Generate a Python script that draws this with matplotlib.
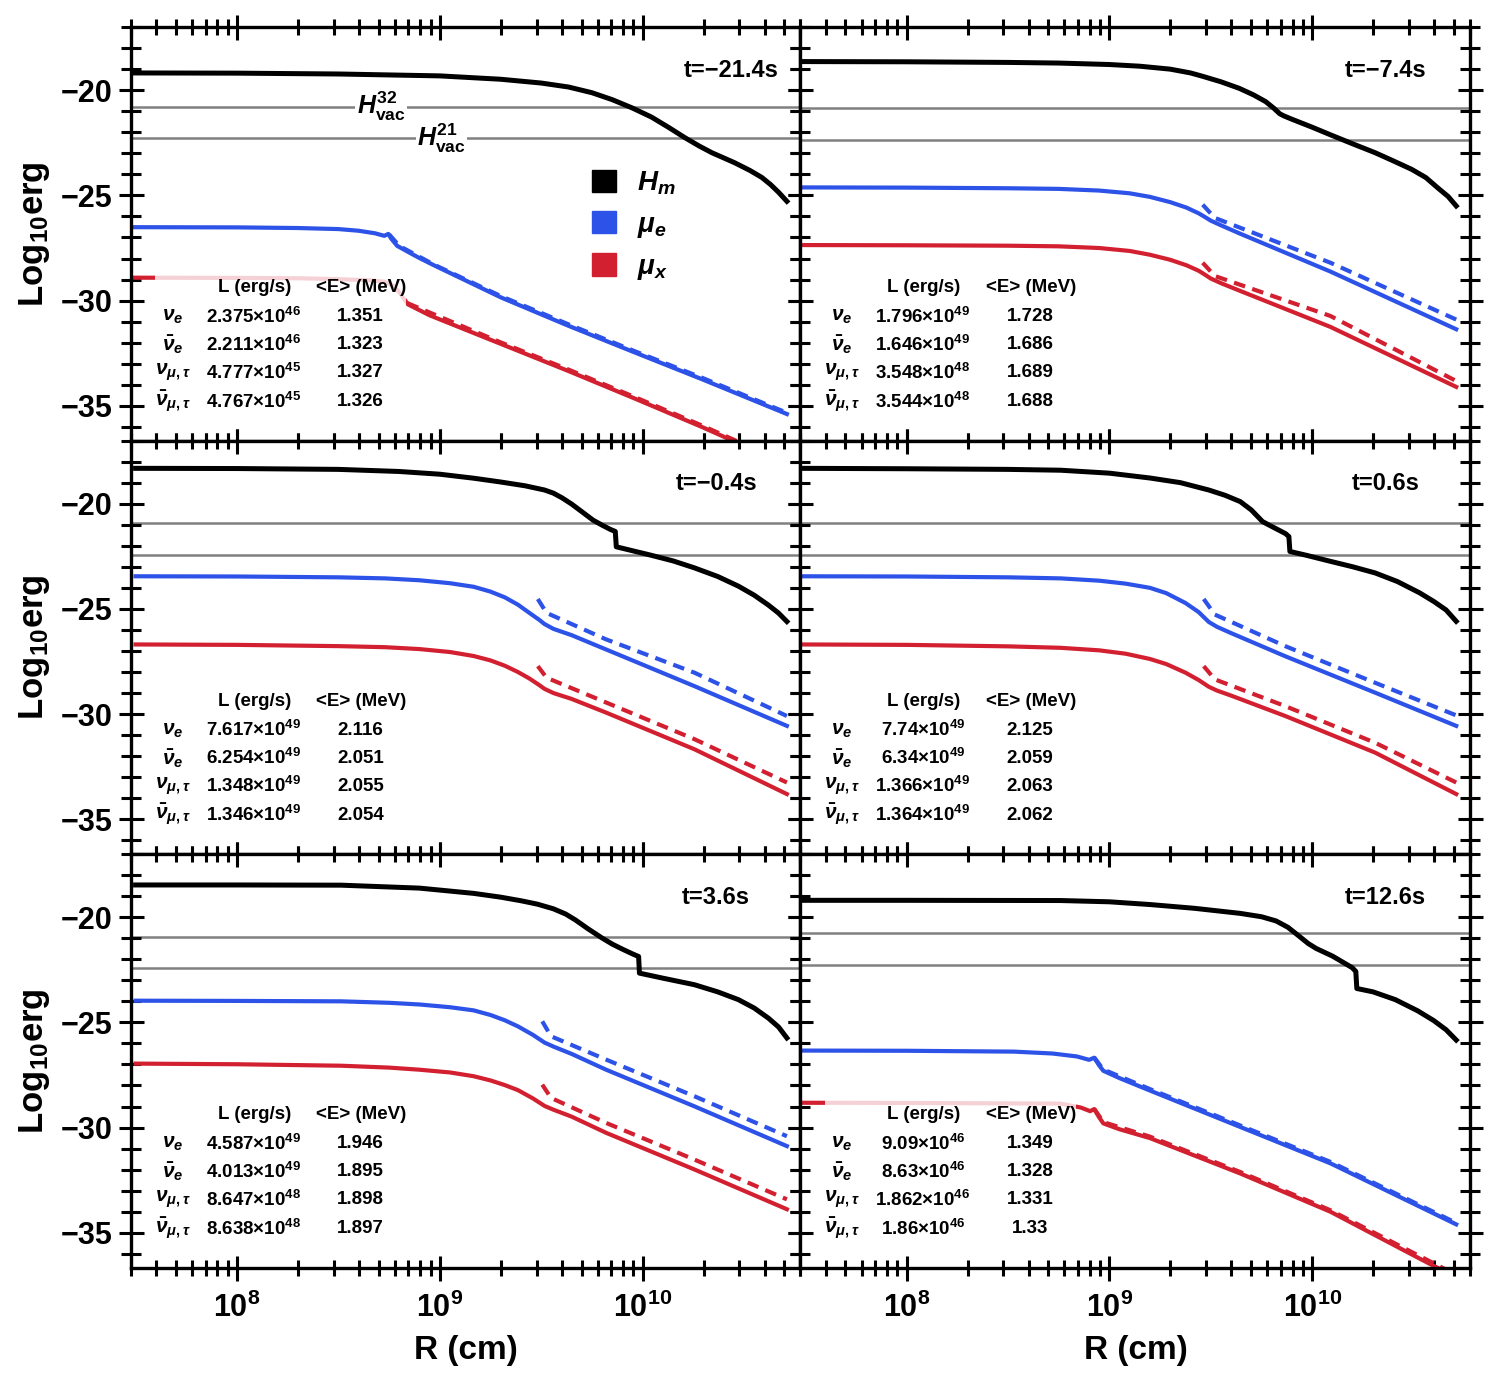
import numpy as np
import matplotlib
matplotlib.use('Agg')
import matplotlib.pyplot as plt
from matplotlib.patches import Rectangle, Patch
from matplotlib.ticker import FixedLocator, MultipleLocator, LogLocator, FuncFormatter, NullFormatter

plt.rcParams['font.family'] = ['Liberation Sans', 'DejaVu Sans']
plt.rcParams['font.weight'] = 'bold'
plt.rcParams['mathtext.fontset'] = 'custom'
plt.rcParams['mathtext.rm'] = 'Liberation Sans:bold'
plt.rcParams['mathtext.it'] = 'Liberation Sans:italic:bold'
plt.rcParams['mathtext.bf'] = 'Liberation Sans:bold'

# ---- data (x given as log10 R in cm, y as log10 erg) ----
times = ['t=\u221221.4s', 't=\u22127.4s', 't=\u22120.4s', 't=0.6s', 't=3.6s', 't=12.6s']

h32 = [-20.78, -20.84, -20.93, -20.93, -20.96, -20.77]
h21 = [-22.27, -22.36, -22.45, -22.45, -22.43, -22.28]

hm_logr = [
    [7.48, 8.0, 8.5, 9.0, 9.3, 9.5, 9.635, 9.75, 9.85, 9.95, 10.044, 10.13, 10.207, 10.28, 10.341, 10.4, 10.454, 10.53, 10.588, 10.63, 10.67, 10.711],
    [7.49, 8.0, 8.5, 8.75, 9.0, 9.15, 9.3, 9.4, 9.46, 9.55, 9.64, 9.71, 9.77, 9.81, 9.84, 9.86, 9.9, 10.0, 10.09, 10.2, 10.31, 10.4, 10.49, 10.56, 10.62, 10.67, 10.71],
    [7.5, 8.0, 8.5, 8.8, 9.0, 9.167, 9.3, 9.42, 9.516, 9.56, 9.602, 9.65, 9.7, 9.755, 9.8, 9.84, 9.865, 9.87, 9.9, 10.037, 10.15, 10.255, 10.37, 10.472, 10.55, 10.62, 10.67, 10.711],
    [7.48, 8.0, 8.5, 8.76, 9.0, 9.2, 9.35, 9.49, 9.57, 9.645, 9.7, 9.755, 9.8, 9.84, 9.868, 9.885, 9.89, 9.97, 10.09, 10.2, 10.31, 10.42, 10.53, 10.6, 10.66, 10.71],
    [7.5, 8.0, 8.514, 8.9, 9.167, 9.3, 9.4, 9.48, 9.559, 9.62, 9.668, 9.73, 9.798, 9.85, 9.9, 9.951, 9.98, 9.984, 10.1, 10.255, 10.37, 10.472, 10.55, 10.62, 10.67, 10.711],
    [7.48, 8.0, 8.76, 9.0, 9.2, 9.42, 9.645, 9.75, 9.822, 9.88, 9.93, 9.98, 10.02, 10.1, 10.197, 10.215, 10.22, 10.3, 10.41, 10.52, 10.6, 10.66, 10.71],
]
hm_val = [
    [-19.18, -19.19, -19.23, -19.32, -19.48, -19.66, -19.85, -20.12, -20.45, -20.85, -21.28, -21.78, -22.25, -22.66, -22.97, -23.22, -23.45, -23.82, -24.15, -24.48, -24.85, -25.28],
    [-18.64, -18.65, -18.68, -18.71, -18.78, -18.86, -19.00, -19.18, -19.34, -19.60, -19.91, -20.22, -20.54, -20.85, -21.12, -21.22, -21.38, -21.76, -22.12, -22.55, -22.97, -23.36, -23.76, -24.15, -24.65, -25.05, -25.50],
    [-18.32, -18.33, -18.37, -18.47, -18.60, -18.79, -18.97, -19.15, -19.35, -19.50, -19.72, -20.02, -20.38, -20.78, -21.02, -21.22, -21.32, -22.05, -22.12, -22.44, -22.72, -23.05, -23.46, -23.92, -24.35, -24.82, -25.20, -25.60],
    [-18.32, -18.34, -18.37, -18.41, -18.55, -18.78, -19.00, -19.35, -19.60, -19.90, -20.30, -20.85, -21.08, -21.28, -21.42, -21.56, -22.27, -22.45, -22.74, -23.00, -23.29, -23.70, -24.24, -24.65, -25.05, -25.59],
    [-18.47, -18.47, -18.48, -18.62, -18.87, -19.05, -19.22, -19.38, -19.60, -19.85, -20.13, -20.55, -20.98, -21.28, -21.52, -21.75, -21.87, -22.66, -22.90, -23.21, -23.55, -23.92, -24.32, -24.80, -25.22, -25.74],
    [-19.20, -19.20, -19.21, -19.27, -19.40, -19.58, -19.82, -19.98, -20.18, -20.48, -20.86, -21.25, -21.49, -21.85, -22.40, -22.58, -23.39, -23.55, -23.92, -24.45, -24.92, -25.35, -25.84],
]

mue_logr = [
    [7.48, 8.0, 8.3, 8.5, 8.6, 8.68, 8.726, 8.746, 8.76, 8.79, 8.85, 8.9, 8.973, 9.304, 9.635, 9.96, 10.291, 10.711],
    [7.49, 8.0, 8.5, 8.75, 8.95, 9.1, 9.2, 9.3, 9.38, 9.44, 9.47, 9.5, 9.55, 9.64, 10.09, 10.71],
    [7.5, 8.0, 8.5, 8.73, 8.9, 9.05, 9.167, 9.25, 9.32, 9.385, 9.44, 9.49, 9.516, 9.56, 9.65, 9.82, 10.255, 10.711],
    [7.48, 8.0, 8.5, 8.76, 8.95, 9.08, 9.2, 9.28, 9.375, 9.44, 9.49, 9.53, 9.6, 9.867, 10.31, 10.71],
    [7.5, 8.0, 8.514, 8.75, 8.9, 9.05, 9.167, 9.25, 9.32, 9.385, 9.46, 9.516, 9.56, 9.65, 9.82, 10.255, 10.711],
    [7.48, 8.0, 8.53, 8.72, 8.84, 8.9, 8.925, 8.95, 8.97, 9.05, 9.2, 9.645, 10.09, 10.71],
]
mue_val = [
    [-26.51, -26.52, -26.55, -26.60, -26.68, -26.80, -26.92, -26.83, -27.05, -27.40, -27.72, -27.98, -28.33, -29.86, -31.20, -32.46, -33.73, -35.39],
    [-24.62, -24.63, -24.66, -24.69, -24.77, -24.90, -25.07, -25.32, -25.58, -25.85, -26.02, -26.20, -26.42, -26.80, -28.62, -31.36],
    [-23.45, -23.46, -23.50, -23.55, -23.64, -23.78, -23.95, -24.18, -24.45, -24.80, -25.18, -25.52, -25.72, -25.95, -26.25, -26.93, -28.67, -30.56],
    [-23.45, -23.46, -23.50, -23.55, -23.66, -23.80, -24.00, -24.25, -24.72, -25.15, -25.62, -25.85, -26.15, -27.25, -28.98, -30.56],
    [-23.97, -23.98, -24.00, -24.07, -24.15, -24.28, -24.43, -24.65, -24.90, -25.19, -25.60, -25.96, -26.15, -26.50, -27.25, -28.99, -30.88],
    [-26.34, -26.35, -26.39, -26.48, -26.62, -26.78, -26.68, -27.05, -27.30, -27.65, -28.24, -29.97, -31.70, -34.60],
]
mue_dash_logr = [
    [8.75, 8.8, 8.973, 9.304, 9.635, 9.96, 10.291, 10.711],
    [9.46, 9.52, 10.09, 10.71],
    [9.483, 9.526, 9.82, 10.255, 10.711],
    [9.465, 9.52, 9.867, 10.31, 10.71],
    [9.505, 9.548, 9.82, 10.255, 10.711],
    [8.925, 8.97, 9.2, 9.645, 10.09, 10.71],
]
mue_dash_val = [
    [-26.85, -27.40, -28.30, -29.80, -31.13, -32.40, -33.66, -35.33],
    [-25.44, -26.07, -28.20, -30.90],
    [-24.53, -25.19, -26.45, -28.03, -30.09],
    [-24.53, -25.27, -26.77, -28.51, -30.06],
    [-24.95, -25.66, -26.77, -28.51, -30.41],
    [-26.66, -27.24, -28.17, -29.90, -31.63, -34.53],
]

mux_logr = [
    [7.48, 8.0, 8.316, 8.5, 8.65, 8.726, 8.77, 8.8, 8.843, 8.95, 9.304, 9.635, 9.96, 10.291, 10.5],
    [7.49, 8.0, 8.5, 8.75, 8.95, 9.1, 9.2, 9.3, 9.38, 9.44, 9.47, 9.5, 9.55, 9.64, 10.09, 10.71],
    [7.5, 8.0, 8.5, 8.73, 8.9, 9.05, 9.167, 9.25, 9.32, 9.385, 9.44, 9.49, 9.516, 9.56, 9.65, 9.82, 10.255, 10.711],
    [7.48, 8.0, 8.5, 8.76, 8.95, 9.08, 9.2, 9.28, 9.375, 9.44, 9.49, 9.53, 9.6, 9.867, 10.31, 10.71],
    [7.5, 8.0, 8.514, 8.75, 8.9, 9.05, 9.167, 9.25, 9.32, 9.385, 9.46, 9.516, 9.56, 9.65, 9.82, 10.255, 10.711],
    [7.48, 8.0, 8.76, 8.86, 8.905, 8.925, 8.95, 8.97, 9.05, 9.2, 9.645, 10.09, 10.58, 10.71],
]
mux_val = [
    [-28.91, -28.92, -28.94, -28.98, -29.03, -29.10, -29.30, -29.60, -30.18, -30.70, -32.07, -33.35, -34.65, -36.00, -36.90],
    [-27.36, -27.37, -27.39, -27.42, -27.50, -27.64, -27.82, -28.06, -28.32, -28.58, -28.76, -28.95, -29.17, -29.52, -31.25, -34.10],
    [-26.69, -26.71, -26.77, -26.82, -26.91, -27.05, -27.24, -27.45, -27.70, -28.00, -28.30, -28.62, -28.80, -29.00, -29.28, -29.93, -31.67, -33.80],
    [-26.69, -26.71, -26.78, -26.85, -26.97, -27.13, -27.38, -27.62, -28.03, -28.38, -28.70, -28.88, -29.12, -30.09, -31.83, -33.80],
    [-26.96, -26.99, -27.06, -27.15, -27.25, -27.38, -27.56, -27.76, -27.98, -28.22, -28.62, -28.97, -29.15, -29.48, -30.25, -31.99, -33.88],
    [-28.82, -28.83, -28.86, -29.05, -29.22, -29.12, -29.52, -29.80, -30.08, -30.50, -32.18, -34.00, -36.48, -37.10],
]
mux_dash_logr = [
    [8.84, 9.304, 9.635, 9.96, 10.291, 10.5],
    [9.46, 9.52, 10.09, 10.71],
    [9.483, 9.526, 9.82, 10.255, 10.711],
    [9.465, 9.52, 9.867, 10.31, 10.71],
    [9.505, 9.548, 9.82, 10.255, 10.711],
    [8.925, 8.97, 9.2, 9.645, 10.09, 10.71],
]
mux_dash_val = [
    [-30.12, -32.00, -33.28, -34.58, -35.93, -36.83],
    [-28.20, -28.83, -30.73, -33.82],
    [-27.72, -28.27, -29.45, -31.19, -33.25],
    [-27.72, -28.35, -29.62, -31.36, -33.25],
    [-27.96, -28.59, -29.78, -31.52, -33.41],
    [-29.10, -29.74, -30.43, -32.11, -33.93, -37.00],
]

nu_labels = [r'$\nu_e$', r'$\bar{\nu}_e$', r'$\nu_{\mu,\tau}$', r'$\bar{\nu}_{\mu,\tau}$']
lum_mant = [
    ['2.375', '2.211', '4.777', '4.767'],
    ['1.796', '1.646', '3.548', '3.544'],
    ['7.617', '6.254', '1.348', '1.346'],
    ['7.74', '6.34', '1.366', '1.364'],
    ['4.587', '4.013', '8.647', '8.638'],
    ['9.09', '8.63', '1.862', '1.86'],
]
lum_exp = [
    [46, 46, 45, 45],
    [49, 49, 48, 48],
    [49, 49, 49, 49],
    [49, 49, 49, 49],
    [49, 49, 48, 48],
    [46, 46, 46, 46],
]
e_mean = [
    ['1.351', '1.323', '1.327', '1.326'],
    ['1.728', '1.686', '1.689', '1.688'],
    ['2.116', '2.051', '2.055', '2.054'],
    ['2.125', '2.059', '2.063', '2.062'],
    ['1.946', '1.895', '1.898', '1.897'],
    ['1.349', '1.328', '1.331', '1.33'],
]

# ---- style ----
c_blue = '#2D52E8'
c_red = '#D22030'
c_gray = '#808080'
time_x = [0.896, 0.874, 0.874, 0.874, 0.874, 0.874]
row_y = [0.299, 0.232, 0.164, 0.094]

fig, axes = plt.subplots(3, 2, figsize=(14.95, 13.74), dpi=100, sharex=True, sharey=True)
fig.subplots_adjust(left=0.0876, right=0.9833, top=0.9803, bottom=0.0775, hspace=0, wspace=0)

for i, ax in enumerate(axes.flat):
    ax.set_xscale('log')
    ax.set_xlim(3e7, 6e10)
    ax.set_ylim(-36.65, -17.0)

    ax.axhline(h32[i], color=c_gray, lw=1.8, zorder=1)
    ax.axhline(h21[i], color=c_gray, lw=1.8, zorder=1)

    ax.plot(10 ** np.array(hm_logr[i]), hm_val[i], color='black', lw=3.6, zorder=2)
    ax.plot(10 ** np.array(mue_logr[i]), mue_val[i], color=c_blue, lw=3.0, zorder=2)
    ax.plot(10 ** np.array(mux_logr[i]), mux_val[i], color=c_red, lw=3.0, zorder=2)
    ax.plot(10 ** np.array(mue_dash_logr[i]), mue_dash_val[i], color=c_blue, lw=3.0,
            ls=(0, (2.8, 1.8)), zorder=2)
    ax.plot(10 ** np.array(mux_dash_logr[i]), mux_dash_val[i], color=c_red, lw=3.0,
            ls=(0, (2.8, 1.8)), zorder=2)

    # translucent backing for the table
    ax.add_patch(Rectangle((0.036, 0.06), 0.375, 0.345, transform=ax.transAxes,
                           facecolor='white', edgecolor='none', alpha=0.8, zorder=3))

    ax.text(0.184, 0.369, 'L (erg/s)', transform=ax.transAxes, ha='center', va='center',
            fontsize=13.5, zorder=4)
    ax.text(0.344, 0.369, '<E> (MeV)', transform=ax.transAxes, ha='center', va='center',
            fontsize=13.5, zorder=4)
    for k in range(4):
        ax.text(0.062, row_y[k], nu_labels[k], transform=ax.transAxes, ha='center',
                va='center', fontsize=15, zorder=4)
        ax.text(0.183, row_y[k], '%s\u00d710$^{%d}$' % (lum_mant[i][k], lum_exp[i][k]),
                transform=ax.transAxes, ha='center', va='center', fontsize=13.5, zorder=4)
        ax.text(0.343, row_y[k], e_mean[i][k], transform=ax.transAxes, ha='center',
                va='center', fontsize=13.5, zorder=4)

    ax.text(time_x[i], 0.896, times[i], transform=ax.transAxes, ha='center', va='center',
            fontsize=17)

    # ticks
    ax.xaxis.set_major_locator(FixedLocator([1e8, 1e9, 1e10]))
    ax.xaxis.set_minor_locator(LogLocator(base=10, subs=np.arange(2, 10), numticks=20))
    ax.xaxis.set_minor_formatter(NullFormatter())
    ax.xaxis.set_major_formatter(FuncFormatter(lambda v, p: r'$\mathbf{10^{%d}}$' % round(np.log10(v))))
    ax.yaxis.set_major_locator(MultipleLocator(5))
    ax.yaxis.set_minor_locator(MultipleLocator(1))
    ax.tick_params(which='both', direction='inout', top=True, right=True, width=2.2)
    ax.tick_params(which='major', length=18, labelsize=22)
    ax.tick_params(axis='x', which='minor', length=11)
    ax.tick_params(axis='y', which='minor', length=14)
    ax.tick_params(axis='x', which='major', pad=9)
    ax.tick_params(axis='y', which='major', pad=4)
    for s in ax.spines.values():
        s.set_linewidth(2.4)

# H_vac labels and legend in the first panel
ax0 = axes[0, 0]
ax0.text(5.14e8, h32[0], r'$H^{32}_{\mathrm{vac}}$', ha='center', va='center', fontsize=18,
         bbox=dict(facecolor='white', edgecolor='none', pad=1), zorder=3)
ax0.text(1.02e9, h21[0], r'$H^{21}_{\mathrm{vac}}$', ha='center', va='center', fontsize=18,
         bbox=dict(facecolor='white', edgecolor='none', pad=1), zorder=3)
handles = [Patch(color='black'), Patch(color=c_blue), Patch(color=c_red)]
ax0.legend(handles, [r'$H_m$', r'$\mu_e$', r'$\mu_x$'], loc='upper left',
           bbox_to_anchor=(0.652, 0.716), frameon=False, fontsize=20, handlelength=0.85,
           handleheight=0.85, handletextpad=0.75, labelspacing=0.5)

# axis labels
for r in range(3):
    yc = 1 - (27 + 413.5 * (r + 0.5)) / 1374
    fig.text(35 / 1495, yc, 'Log$_{10}$erg', rotation=90, ha='center', va='center', fontsize=25)
for c in range(2):
    xc = (465.5 + 670 * c) / 1495
    fig.text(xc, 1 - 1350 / 1374, 'R (cm)', ha='center', va='center', fontsize=24)

fig.savefig('out.png', dpi=100)
